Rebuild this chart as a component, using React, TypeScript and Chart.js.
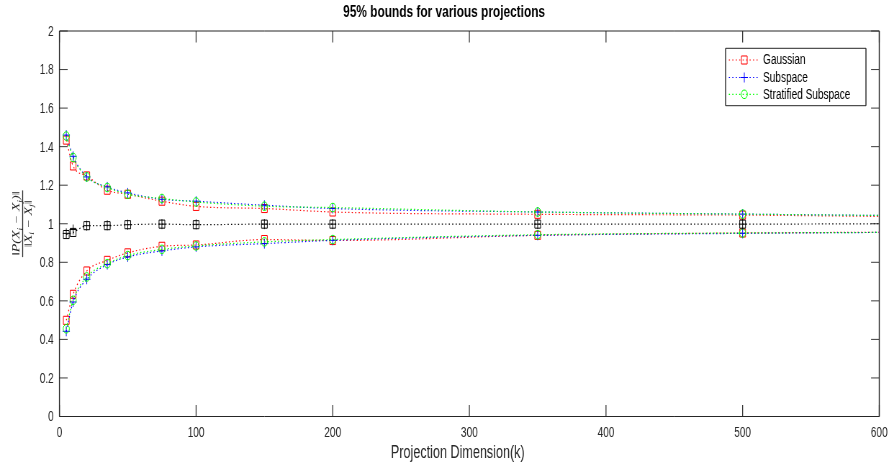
import React, { useEffect, useRef } from 'react';
import { Chart, registerables } from 'chart.js';
Chart.register(...registerables);

// The reference is horizontally squeezed: draw on a wider bitmap and display it at 889px.
const W = 1235;
const H = 464;

// ---- data ----
const kValues = [5, 10, 20, 35, 50, 75, 100, 150, 200, 350, 500, 600];
const hasMarker = [1, 1, 1, 1, 1, 1, 1, 1, 1, 1, 1, 0];
const gaussianUpper = [1.434, 1.3, 1.248, 1.174, 1.153, 1.117, 1.09, 1.079, 1.061, 1.049, 1.045, 1.038];
const gaussianLower = [0.499, 0.634, 0.755, 0.81, 0.849, 0.883, 0.89, 0.918, 0.913, 0.94, 0.952, 0.956];
const subspaceUpper = [1.46, 1.35, 1.243, 1.191, 1.16, 1.127, 1.117, 1.096, 1.079, 1.061, 1.05, 1.043];
const subspaceLower = [0.442, 0.594, 0.712, 0.788, 0.828, 0.859, 0.88, 0.897, 0.914, 0.94, 0.95, 0.955];
const stratifiedUpper = [1.455, 1.344, 1.243, 1.188, 1.153, 1.131, 1.113, 1.091, 1.084, 1.061, 1.05, 1.043];
const stratifiedLower = [0.455, 0.603, 0.724, 0.793, 0.835, 0.867, 0.885, 0.906, 0.918, 0.943, 0.952, 0.955];
const meanSquare = [0.944, 0.955, 0.99, 0.99, 0.995, 0.998, 0.995, 0.998, 0.998, 0.998, 0.998, 1.0];
const meanPlus = [0.95, 0.97, 0.99, 0.992, 0.995, 0.998, 0.997, 0.998, 0.998, 0.998, 0.998, 1.0];

const xTicks = [0, 100, 200, 300, 400, 500, 600];
const yTicks = [0, 0.2, 0.4, 0.6, 0.8, 1, 1.2, 1.4, 1.6, 1.8, 2];
const legendLabels = ['Gaussian', 'Subspace', 'Stratified Subspace'];
const legendColors = ['#ff0000', '#0000ff', '#00ff00'];
const legendMarkers = ['rect', 'cross', 'circle'];
const titleText = '95% bounds for various projections';
const xLabelText = 'Projection Dimension(k)';

const FONT = '"Liberation Sans", Arial, Helvetica, sans-serif';
const AXIS_COLOR = '#262626';
const DASH = [1.6, 3.2];

const markerRadius: Record<string, number> = { rect: 5.7, cross: 5, circle: 4.3 };

function series(vals: number[], color: string, style: string, showLine = true) {
  return {
    data: kValues.map((k, i) => ({ x: k, y: vals[i] })),
    borderColor: color,
    backgroundColor: 'rgba(0,0,0,0)',
    borderWidth: 1.2,
    borderDash: DASH,
    showLine,
    fill: false,
    cubicInterpolationMode: 'monotone',
    pointStyle: style,
    pointRadius: hasMarker.map((m) => (m ? markerRadius[style] : 0)),
    pointHoverRadius: 0,
    pointBorderColor: color,
    pointBackgroundColor: 'rgba(0,0,0,0)',
    pointBorderWidth: 1,
  };
}

function drawMarker(ctx: CanvasRenderingContext2D, style: string, x: number, y: number, color: string) {
  const r = markerRadius[style];
  ctx.save();
  ctx.strokeStyle = color;
  ctx.lineWidth = 1;
  ctx.setLineDash([]);
  ctx.beginPath();
  if (style === 'rect') {
    const s = Math.SQRT1_2 * r;
    ctx.rect(x - s, y - s, 2 * s, 2 * s);
  } else if (style === 'cross') {
    ctx.moveTo(x, y - r);
    ctx.lineTo(x, y + r);
    ctx.moveTo(x - r, y);
    ctx.lineTo(x + r, y);
  } else {
    ctx.arc(x, y, r, 0, Math.PI * 2);
  }
  ctx.stroke();
  ctx.restore();
}

type Seg = { t: string; sub?: boolean };
const MATH_FONT = '"Liberation Serif", "Times New Roman", serif';
function richWidth(ctx: CanvasRenderingContext2D, segs: Seg[], size: number) {
  let w = 0;
  for (const s of segs) {
    ctx.font = `italic ${s.sub ? size * 0.7 : size}px ${MATH_FONT}`;
    w += ctx.measureText(s.t).width;
  }
  return w;
}
function drawRich(ctx: CanvasRenderingContext2D, segs: Seg[], cx: number, baseline: number, size: number) {
  const total = richWidth(ctx, segs, size);
  let x = cx - total / 2;
  ctx.textAlign = 'left';
  ctx.textBaseline = 'alphabetic';
  for (const s of segs) {
    ctx.font = `italic ${s.sub ? size * 0.7 : size}px ${MATH_FONT}`;
    ctx.fillText(s.t, x, baseline + (s.sub ? size * 0.25 : 0));
    x += ctx.measureText(s.t).width;
  }
  return total;
}

const matlabPlugin = {
  id: 'matlabAxes',
  beforeDatasetsDraw(chart: any) {
    const { ctx, chartArea: a, scales } = chart;
    const xs = scales.x;
    const ys = scales.y;
    const TL = 11.4;
    ctx.save();
    ctx.strokeStyle = AXIS_COLOR;
    ctx.setLineDash([]);
    // ticks
    ctx.lineWidth = 1.2;
    ctx.beginPath();
    for (const v of xTicks) {
      const px = xs.getPixelForValue(v);
      ctx.moveTo(px, a.bottom);
      ctx.lineTo(px, a.bottom - TL);
      ctx.moveTo(px, a.top);
      ctx.lineTo(px, a.top + TL);
    }
    ctx.stroke();
    ctx.lineWidth = 0.9;
    ctx.beginPath();
    for (const v of yTicks) {
      const py = ys.getPixelForValue(v);
      ctx.moveTo(a.left, py);
      ctx.lineTo(a.left + TL, py);
      ctx.moveTo(a.right, py);
      ctx.lineTo(a.right - TL, py);
    }
    ctx.stroke();
    // box
    ctx.lineWidth = 1;
    ctx.beginPath();
    ctx.moveTo(a.left, a.top);
    ctx.lineTo(a.right, a.top);
    ctx.moveTo(a.left, a.bottom);
    ctx.lineTo(a.right, a.bottom);
    ctx.stroke();
    ctx.lineWidth = 1.4;
    ctx.beginPath();
    ctx.moveTo(a.left, a.top);
    ctx.lineTo(a.left, a.bottom);
    ctx.moveTo(a.right, a.top);
    ctx.lineTo(a.right, a.bottom);
    ctx.stroke();

    // tick labels
    ctx.fillStyle = AXIS_COLOR;
    ctx.font = `14px ${FONT}`;
    ctx.textAlign = 'center';
    ctx.textBaseline = 'alphabetic';
    for (const v of xTicks) {
      ctx.fillText(String(v), xs.getPixelForValue(v), 437);
    }
    ctx.textAlign = 'right';
    ctx.textBaseline = 'middle';
    for (const v of yTicks) {
      ctx.fillText(String(Number(v.toFixed(1))), a.left - 8, ys.getPixelForValue(v) + 1);
    }

    // title
    ctx.fillStyle = '#000000';
    ctx.font = `bold 16.5px ${FONT}`;
    ctx.textAlign = 'center';
    ctx.textBaseline = 'alphabetic';
    ctx.fillText(titleText, 617, 17);

    // x label
    ctx.fillStyle = AXIS_COLOR;
    ctx.font = `17.5px ${FONT}`;
    ctx.fillText(xLabelText, 636, 458);

    // y label (fraction, rotated)
    ctx.save();
    ctx.translate(31.5, (a.top + a.bottom) / 2);
    ctx.rotate(-Math.PI / 2);
    ctx.fillStyle = AXIS_COLOR;
    const num: Seg[] = [{ t: '‖P(X' }, { t: 'i', sub: true }, { t: ' − X' }, { t: 'j', sub: true }, { t: ')‖' }];
    const den: Seg[] = [{ t: '‖X' }, { t: 'i', sub: true }, { t: ' − X' }, { t: 'j', sub: true }, { t: '‖' }];
    const wn = drawRich(ctx, num, 0, -4.5, 14);
    drawRich(ctx, den, 0, 12, 14);
    ctx.strokeStyle = AXIS_COLOR;
    ctx.lineWidth = 1.3;
    ctx.beginPath();
    const half = Math.max(wn, 62) / 2 + 1;
    ctx.moveTo(-half, 0);
    ctx.lineTo(half, 0);
    ctx.stroke();
    ctx.restore();

    ctx.restore();
  },
  afterDraw(chart: any) {
    const { ctx } = chart;
    ctx.save();
    // legend box
    const L = 1008, R = 1203, T = 48.3, B = 105.7;
    ctx.fillStyle = '#ffffff';
    ctx.fillRect(L, T, R - L, B - T);
    ctx.strokeStyle = AXIS_COLOR;
    ctx.lineWidth = 1;
    ctx.beginPath();
    ctx.moveTo(L, T);
    ctx.lineTo(R, T);
    ctx.moveTo(L, B);
    ctx.lineTo(R, B);
    ctx.stroke();
    ctx.lineWidth = 1.4;
    ctx.beginPath();
    ctx.moveTo(L, T);
    ctx.lineTo(L, B);
    ctx.moveTo(R, T);
    ctx.lineTo(R, B);
    ctx.stroke();
    const rows = [60, 77.5, 94.3];
    legendLabels.forEach((label, i) => {
      const y = rows[i];
      ctx.strokeStyle = legendColors[i];
      ctx.lineWidth = 1.2;
      ctx.setLineDash(DASH);
      ctx.beginPath();
      ctx.moveTo(1012.5, y);
      ctx.lineTo(1055.5, y);
      ctx.stroke();
      ctx.setLineDash([]);
      drawMarker(ctx, legendMarkers[i], 1034, y, legendColors[i]);
      ctx.fillStyle = '#000000';
      ctx.font = `14px ${FONT}`;
      ctx.textAlign = 'left';
      ctx.textBaseline = 'middle';
      ctx.fillText(label, 1060, y + 0.5);
    });
    ctx.restore();
  },
};

export default function App() {
  const ref = useRef<HTMLCanvasElement>(null);
  useEffect(() => {
    const canvas = ref.current;
    if (!canvas) return;
    const chart = new Chart(canvas, {
      type: 'line',
      data: {
        datasets: [
          series(meanSquare, '#000000', 'rect'),
          series(meanPlus, '#000000', 'cross', false),
          series(stratifiedUpper, '#00ff00', 'circle'),
          series(stratifiedLower, '#00ff00', 'circle'),
          series(subspaceUpper, '#0000ff', 'cross'),
          series(subspaceLower, '#0000ff', 'cross'),
          series(gaussianUpper, '#ff0000', 'rect'),
          series(gaussianLower, '#ff0000', 'rect'),
        ] as any,
      },
      options: {
        responsive: false,
        animation: false,
        devicePixelRatio: 1,
        events: [],
        layout: { padding: { left: 82.6, right: 13.5, top: 31, bottom: 47.5 } },
        plugins: {
          legend: { display: false },
          title: { display: false },
          tooltip: { enabled: false },
        },
        scales: {
          x: { type: 'linear', min: 0, max: 600, display: false },
          y: { type: 'linear', min: 0, max: 2, display: false },
        },
      } as any,
      plugins: [matlabPlugin],
    });
    return () => chart.destroy();
  }, []);
  return (
    <canvas
      ref={ref}
      width={W}
      height={H}
      style={{ position: 'fixed', left: 0, top: 0, width: '889px', height: '464px', display: 'block', background: '#ffffff' }}
    />
  );
}
